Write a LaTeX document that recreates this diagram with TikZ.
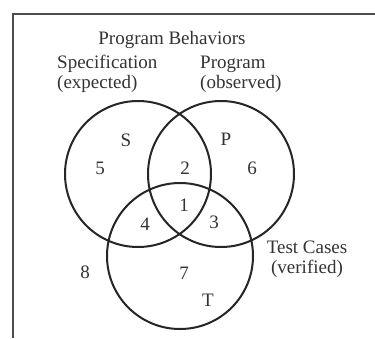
\documentclass[tikz,border=0pt]{standalone}
\usepackage{fontspec}
\setmainfont{Liberation Serif}
\begin{document}
\begin{tikzpicture}[x=1pt,y=-1pt,
  lbl/.style={inner sep=0pt,text=black!80,font=\fontsize{19}{20}\selectfont},
  setc/.style={draw=black!85,line width=2pt},
  frm/.style={draw=black!70,line width=2.5pt}]
\useasboundingbox (0,0) rectangle (375,338);
\fill[white] (0,0) rectangle (375,338);
% frame
\coordinate (fbl) at (13,338);
\coordinate (ftl) at (13,14);
\coordinate (ftr) at (375,14);
\draw[frm] (fbl) -- (ftl) -- (ftr);
% circles
\node[setc,circle,minimum size=146pt,inner sep=0pt] (S) at (138,174) {};
\node[setc,circle,minimum size=146pt,inner sep=0pt] (P) at (221,174) {};
\node[setc,circle,minimum size=146pt,inner sep=0pt] (T) at (180,256) {};
% titles
\node[lbl] (title) at (172,40) {Program Behaviors};
\node[lbl,align=left,anchor=west] (spec) at (57,74) {Specification\\(expected)};
\node[lbl,align=left,anchor=west] (prog) at (200,74) {Program\\(observed)};
\node[lbl,align=center] (test) at (307,259) {Test Cases\\(verified)};
% region labels
\node[lbl] (lS) at (126,140) {S};
\node[lbl] (lP) at (226,139) {P};
\node[lbl] (lT) at (208,300) {T};
\node[lbl] (n5) at (100,168) {5};
\node[lbl] (n2) at (185,168) {2};
\node[lbl] (n6) at (252,168) {6};
\node[lbl] (n1) at (184,205) {1};
\node[lbl] (n4) at (145,224) {4};
\node[lbl] (n3) at (214,222) {3};
\node[lbl] (n8) at (85,272) {8};
\node[lbl] (n7) at (184,273) {7};
\end{tikzpicture}
\end{document}
